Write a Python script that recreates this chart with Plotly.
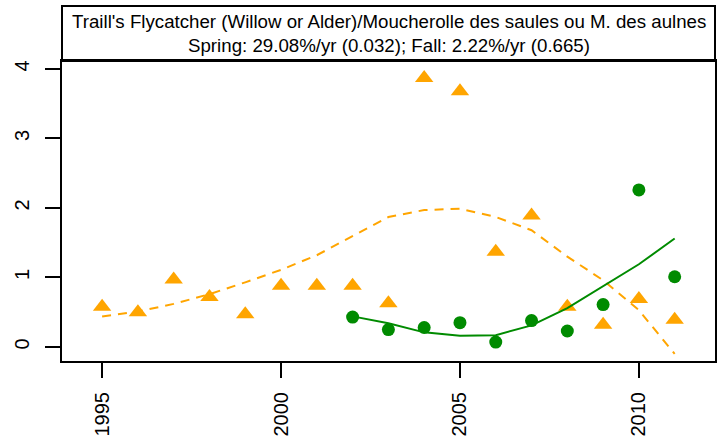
import plotly.graph_objects as go

years_fall = [1995, 1996, 1997, 1998, 1999, 2000, 2001, 2002, 2003,
              2004, 2005, 2006, 2007, 2008, 2009, 2010, 2011]
fall_obs = [0.58, 0.50, 0.97, 0.72, 0.47, 0.88, 0.88, 0.88, 0.63,
            3.87, 3.68, 1.37, 1.89, 0.58, 0.32, 0.69, 0.39]
fall_fit = [0.44, 0.51, 0.62, 0.76, 0.93, 1.11, 1.32, 1.60, 1.87,
            1.97, 1.99, 1.87, 1.68, 1.30, 0.96, 0.53, -0.10]

years_spring = [2002, 2003, 2004, 2005, 2006, 2007, 2008, 2009, 2010, 2011]
spring_obs = [0.43, 0.25, 0.28, 0.35, 0.07, 0.38, 0.23, 0.61, 2.26, 1.01]
spring_fit = [0.44, 0.34, 0.21, 0.16, 0.17, 0.31, 0.56, 0.87, 1.19, 1.56]

x_ticks = [1995, 2000, 2005, 2010]
y_ticks = [0, 1, 2, 3, 4]

title_1 = "Traill's Flycatcher (Willow or Alder)/Moucherolle des saules ou M. des aulnes"
title_2 = "Spring: 29.08%/yr (0.032); Fall: 2.22%/yr (0.665)"

ORANGE = "#FFA500"
GREEN = "#008B00"
FONT = "Liberation Sans"

fig = go.Figure()

# Fall: dashed trend + triangles
fig.add_trace(go.Scatter(
    x=years_fall, y=fall_fit, mode="lines",
    line=dict(color=ORANGE, width=2, dash="9px,7px"),
))
fig.add_trace(go.Scatter(
    x=years_fall, y=fall_obs, mode="markers",
    marker=dict(symbol="triangle-up", size=16, color=ORANGE),
))

# Spring: solid trend + circles
fig.add_trace(go.Scatter(
    x=years_spring, y=spring_fit, mode="lines",
    line=dict(color=GREEN, width=2),
))
fig.add_trace(go.Scatter(
    x=years_spring, y=spring_obs, mode="markers",
    marker=dict(symbol="circle", size=13, color=GREEN),
))

# title box above the plot area
fig.add_shape(type="rect", xref="paper", yref="paper",
              x0=0, x1=1, y0=1, y1=(361 - 6) / 300,
              line=dict(color="black", width=2), fillcolor="white", layer="below")

fig.add_annotation(text=title_1, xref="paper", yref="paper", x=0.5, y=(361 - 21.5) / 300,
                   xanchor="center", yanchor="middle", showarrow=False,
                   font=dict(family=FONT, size=18.7, color="black"))
fig.add_annotation(text=title_2, xref="paper", yref="paper", x=0.5, y=(361 - 46) / 300,
                   xanchor="center", yanchor="middle", showarrow=False,
                   font=dict(family=FONT, size=18.7, color="black"))

fig.update_layout(
    width=722, height=442,
    margin=dict(l=62, r=5, t=61, b=81),
    paper_bgcolor="white", plot_bgcolor="white",
    showlegend=False,
    font=dict(family=FONT, size=20, color="black"),
)

fig.update_xaxes(
    range=[1993.879, 2012.127], tickvals=x_ticks, ticktext=[str(t) for t in x_ticks],
    tickangle=-90, ticks="outside", ticklen=15, tickwidth=2, tickcolor="black",
    showline=True, linecolor="black", linewidth=2, mirror=True,
    showgrid=False, zeroline=False, ticklabelstandoff=6,
)
fig.update_yaxes(
    range=[-0.202, 4.115], tickvals=y_ticks, ticktext=[str(t) for t in y_ticks],
    tickangle=-90, ticks="outside", ticklen=15, tickwidth=2, tickcolor="black",
    showline=True, linecolor="black", linewidth=2, mirror=True,
    showgrid=False, zeroline=False, ticklabelstandoff=8,
)

# the page has a default 8px body margin; drop it so the figure sits at 0,0
fig.write_html("out.html", config={"displayModeBar": False},
               post_script="document.body.style.margin='0';")
